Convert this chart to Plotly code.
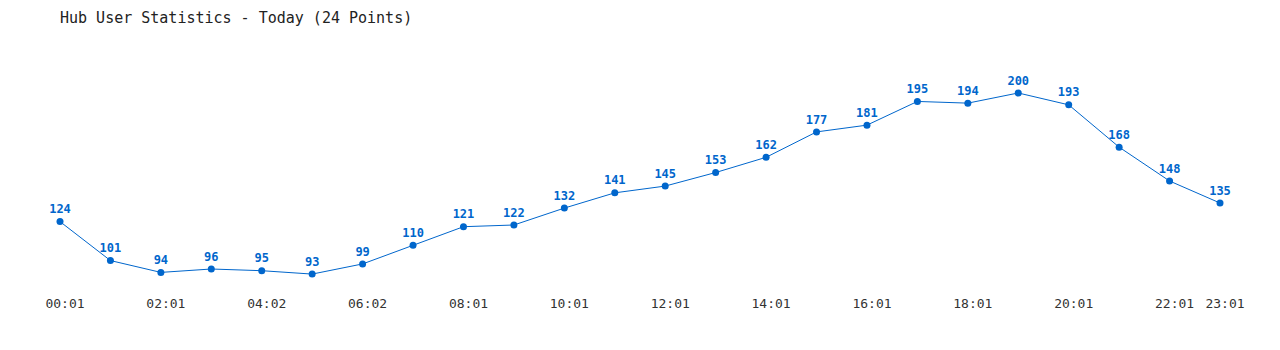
import plotly.graph_objects as go

times = ["00:01", "01:01", "02:01", "03:01", "04:02", "05:02", "06:02", "07:01",
         "08:01", "09:01", "10:01", "11:01", "12:01", "13:01", "14:01", "15:01",
         "16:01", "17:01", "18:01", "19:01", "20:01", "21:01", "22:01", "23:01"]
users = [124, 101, 94, 96, 95, 93, 99, 110, 121, 122, 132, 141, 145, 153, 162,
         177, 181, 195, 194, 200, 193, 168, 148, 135]
tick_idx = [0, 2, 4, 6, 8, 10, 12, 14, 16, 18, 20, 22, 23]

xs = list(range(len(users)))
color = "#0066cc"
mono = "DejaVu Sans Mono, Liberation Mono, monospace"

fig = go.Figure(go.Scatter(
    x=xs, y=users, mode="lines+markers+text",
    line=dict(color=color, width=1),
    marker=dict(color=color, size=7),
    text=[str(v) for v in users], textposition="top center",
    textfont=dict(family=mono, size=12, color=color, weight="bold"),
    cliponaxis=False, hoverinfo="x+y",
))

fig.update_layout(
    width=1280, height=350,
    margin=dict(l=60, r=60, t=40, b=60),
    paper_bgcolor="white", plot_bgcolor="white",
    showlegend=False,
    title=dict(text="Hub User Statistics - Today (24 Points)", x=60/1280, xanchor="left",
               y=1 - 18/350, yanchor="middle",
               font=dict(family=mono, size=15, color="#222")),
    xaxis=dict(range=[0, 23], tickvals=tick_idx, ticktext=[times[i] for i in tick_idx],
               showgrid=False, zeroline=False, showline=False, ticks="",
               ticklabelshift=5, ticklabelstandoff=4,
               tickfont=dict(family=mono, size=13, color="#333")),
    yaxis=dict(range=[83.6, 231.3], visible=False, showgrid=False, zeroline=False),
)
fig.write_html("out.html")
